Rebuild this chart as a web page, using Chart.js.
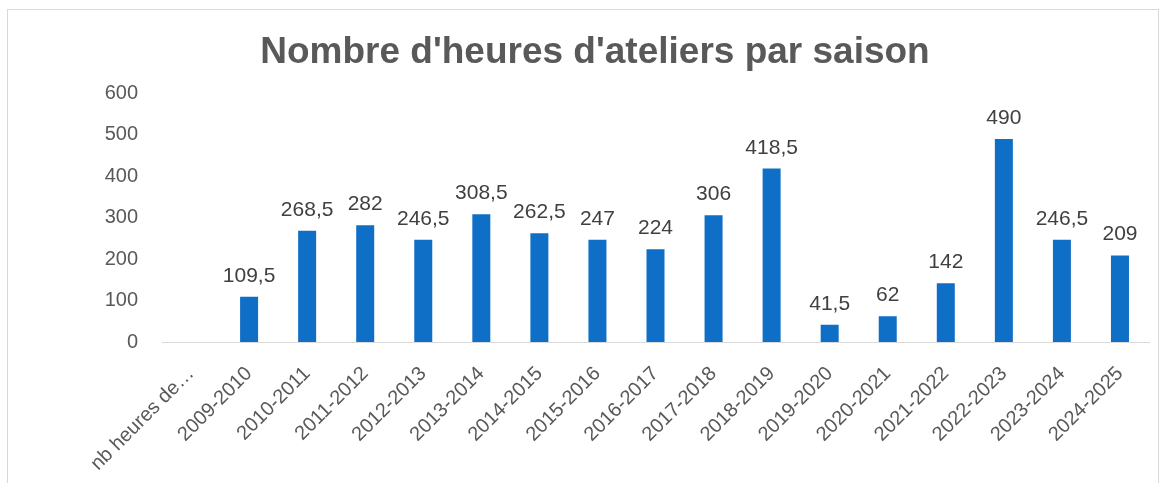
<!DOCTYPE html>
<html lang="fr">
<head>
  <meta charset="UTF-8">
  <title>Nombre d'heures d'ateliers par saison</title>
  <style>
    html, body { margin: 0; padding: 0; background: #fff; }
    #wrap { position: relative; width: 1171px; height: 483px; overflow: hidden; }
    #frame { position: absolute; left: 7px; top: 9px; width: 1152px; height: 500px; border: 1px solid #d9d9d9; box-sizing: border-box; }
    canvas { position: absolute; left: 0; top: 0; }
  </style>
</head>
<body>
  <div id="wrap">
    <div id="frame"></div>
    <canvas id="chart" width="1171" height="483"></canvas>
  </div>

  <script src="https://cdn.jsdelivr.net/npm/chart.js"></script>
  <script>
    // Données
    const saisons = ['nb heures de…', '2009-2010', '2010-2011', '2011-2012', '2012-2013', '2013-2014',
      '2014-2015', '2015-2016', '2016-2017', '2017-2018', '2018-2019', '2019-2020', '2020-2021',
      '2021-2022', '2022-2023', '2023-2024', '2024-2025'];
    const heures = [null, 109.5, 268.5, 282, 246.5, 308.5, 262.5, 247, 224, 306, 418.5, 41.5, 62,
      142, 490, 246.5, 209];
    const yTicks = [0, 100, 200, 300, 400, 500, 600];

    const font = "'Liberation Sans', Arial, sans-serif";

    // valeurs au-dessus des barres
    const valueLabels = {
      id: 'valueLabels',
      afterDatasetsDraw(chart) {
        const ctx = chart.ctx;
        const meta = chart.getDatasetMeta(0);
        ctx.save();
        ctx.font = '21px ' + font;
        ctx.fillStyle = '#404040';
        ctx.textAlign = 'center';
        ctx.textBaseline = 'alphabetic';
        meta.data.forEach((bar, i) => {
          const v = heures[i];
          if (v === null) return;
          ctx.fillText(String(v).replace('.', ','), bar.x, bar.y - 15);
        });
        ctx.restore();
      }
    };

    new Chart(document.getElementById('chart'), {
      type: 'bar',
      data: {
        labels: saisons,
        datasets: [{
          data: heures,
          backgroundColor: '#0f6fc6',
          barPercentage: 0.62,
          categoryPercentage: 0.5
        }]
      },
      options: {
        responsive: false,
        animation: false,
        layout: { padding: { top: 0, right: 22, bottom: 0, left: 41 } },
        plugins: {
          legend: { display: false },
          tooltip: { enabled: false },
          title: {
            display: true,
            text: "Nombre d'heures d'ateliers par saison",
            color: '#595959',
            font: { family: font, size: 37, weight: 'bold' },
            padding: { top: 31, bottom: 18 }
          }
        },
        scales: {
          x: {
            grid: { display: false, drawTicks: false },
            border: { display: true, color: '#d9d9d9', width: 1 },
            ticks: {
              color: '#595959',
              font: { family: font, size: 20 },
              minRotation: 45,
              maxRotation: 45,
              padding: 20,
              autoSkip: false
            },
            afterFit(scale) { scale.height = 141; }
          },
          y: {
            min: 0,
            max: 600,
            afterBuildTicks(scale) { scale.ticks = yTicks.map(v => ({ value: v })); },
            grid: { display: false, drawTicks: false },
            border: { display: false },
            ticks: {
              color: '#595959',
              font: { family: font, size: 20 },
              padding: 24
            },
            afterFit(scale) { scale.width = 121; }
          }
        }
      },
      plugins: [valueLabels]
    });
  </script>
</body>
</html>
